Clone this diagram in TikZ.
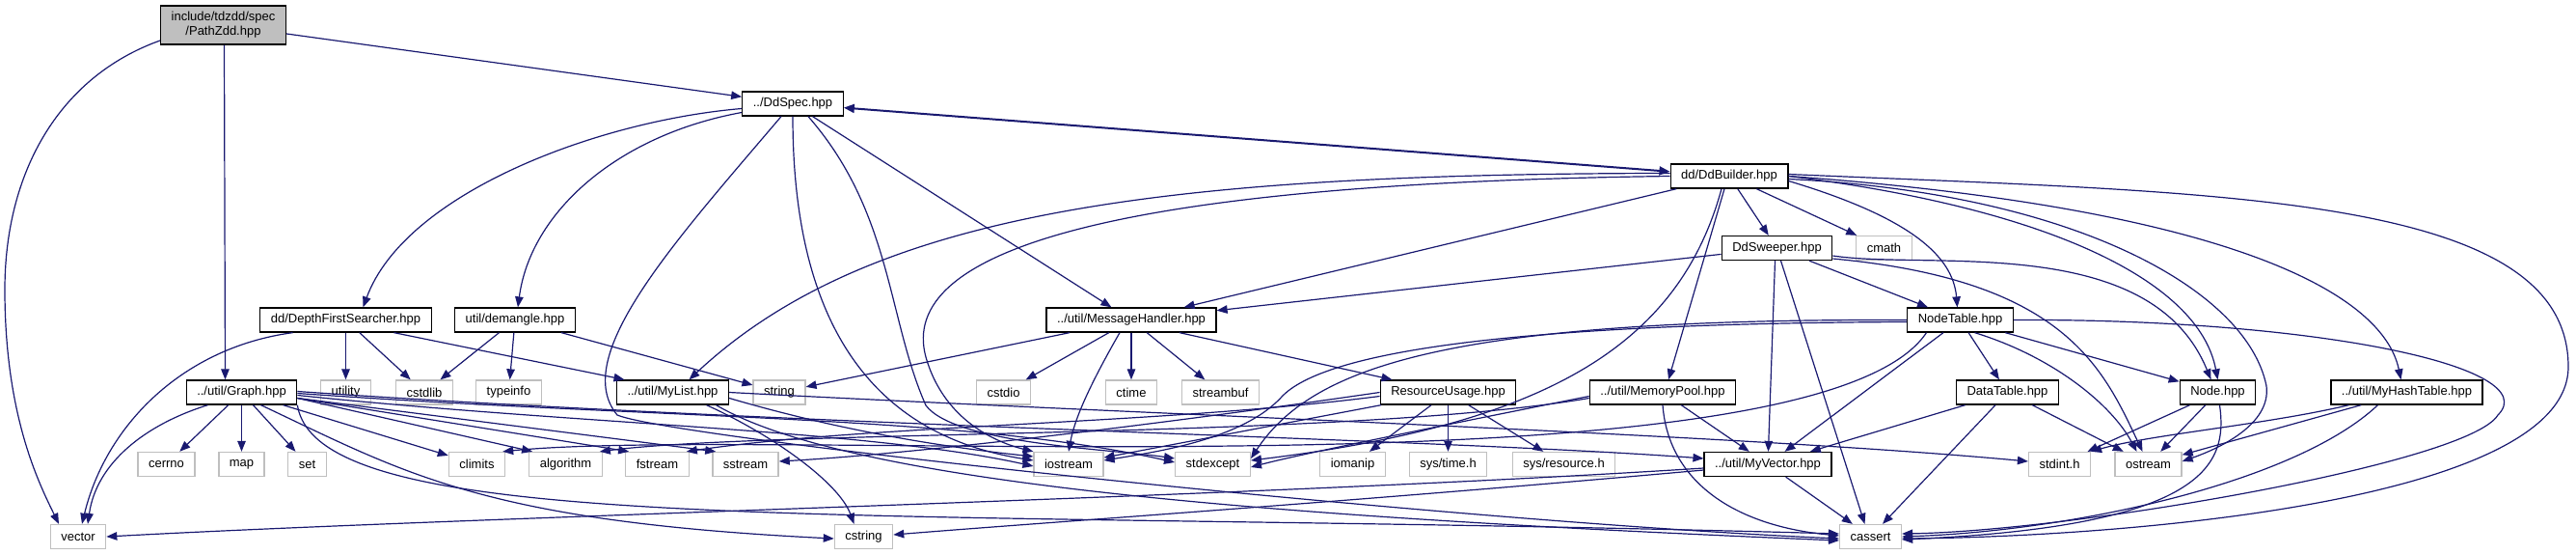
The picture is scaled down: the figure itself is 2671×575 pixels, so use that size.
\documentclass[tikz,border=0pt]{standalone}
\usepackage{fontspec}
\setmainfont{Liberation Sans}
\usetikzlibrary{arrows.meta}
\definecolor{edgeblue}{HTML}{191970}
\definecolor{leafgray}{HTML}{BFBFBF}

\begin{document}
\begin{tikzpicture}[x=1pt,y=-1pt,line width=1pt,font=\fontsize{13}{15}\selectfont,
  srcbox/.style={draw=black,line width=1.3pt,fill=white,minimum height=25pt,inner xsep=11pt,inner ysep=0pt},
  libbox/.style={srcbox,draw=leafgray},
  mainbox/.style={srcbox,fill=leafgray,minimum height=40pt,align=center},
  inc/.style={draw=edgeblue,line width=1.2pt,-{Triangle[length=11pt,width=8.5pt]}}]
\useasboundingbox (0,0) rectangle (2671,575);

\node[mainbox] (pathzdd) at (231.5,26) {include/tdzdd/spec\\/PathZdd.hpp};
\node[srcbox] (ddspec) at (822,107.5) {../DdSpec.hpp};
\node[srcbox] (ddbuilder) at (1793,182.5) {dd/DdBuilder.hpp};
\node[srcbox] (ddsweeper) at (1842.5,257) {DdSweeper.hpp};
\node[libbox] (cmath) at (1953.5,257) {cmath};
\node[srcbox] (dfs) at (358.5,331.5) {dd/DepthFirstSearcher.hpp};
\node[srcbox] (demangle) at (534,331.5) {util/demangle.hpp};
\node[srcbox] (msghandler) at (1173,331.5) {../util/MessageHandler.hpp};
\node[srcbox] (nodetable) at (2032.5,331.5) {NodeTable.hpp};
\node[srcbox] (graph) at (250.5,406.5) {../util/Graph.hpp};
\node[libbox] (utility) at (358.5,406.5) {utility};
\node[libbox] (cstdlib) at (440,406.5) {cstdlib};
\node[libbox] (typeinfo) at (527.5,406.5) {typeinfo};
\node[srcbox] (mylist) at (697.5,406.5) {../util/MyList.hpp};
\node[libbox] (string) at (808,406.5) {string};
\node[libbox] (cstdio) at (1040.5,406.5) {cstdio};
\node[libbox] (ctime) at (1173,406.5) {ctime};
\node[libbox] (streambuf) at (1265.5,406.5) {streambuf};
\node[srcbox] (resusage) at (1501.5,406.5) {ResourceUsage.hpp};
\node[srcbox] (mempool) at (1724,406.5) {../util/MemoryPool.hpp};
\node[srcbox] (datatable) at (2081.5,406.5) {DataTable.hpp};
\node[srcbox] (node) at (2299.5,406.5) {Node.hpp};
\node[srcbox] (myhash) at (2495.5,406.5) {../util/MyHashTable.hpp};
\node[libbox] (cerrno) at (172.5,481) {cerrno};
\node[libbox] (map) at (250.5,481) {map};
\node[libbox] (set) at (318.5,481) {set};
\node[libbox] (climits) at (494.5,481) {climits};
\node[libbox] (algorithm) at (586.5,481) {algorithm};
\node[libbox] (fstream) at (681.5,481) {fstream};
\node[libbox] (sstream) at (773,481) {sstream};
\node[libbox] (iostream) at (1108,481) {iostream};
\node[libbox] (stdexcept) at (1257.5,481) {stdexcept};
\node[libbox] (iomanip) at (1402.5,481) {iomanip};
\node[libbox] (systime) at (1501.5,481) {sys/time.h};
\node[libbox] (sysres) at (1621.5,481) {sys/resource.h};
\node[srcbox] (myvector) at (1833,481) {../util/MyVector.hpp};
\node[libbox] (stdint) at (2135.5,481) {stdint.h};
\node[libbox] (ostream) at (2227.5,481) {ostream};
\node[libbox] (vector) at (81,556) {vector};
\node[libbox] (cstring) at (895.5,556) {cstring};
\node[libbox] (cassert) at (1939.5,556) {cassert};

\draw[inc] (pathzdd) -- (ddspec);
\draw[inc] ([xshift=1pt]pathzdd.south) -- ([xshift=-17pt]graph.north);
\draw[inc] ([yshift=-16pt]pathzdd.west) .. controls (60,80) and (5,180) .. (5,300) .. controls (5,430) and (40,500) .. ([xshift=-20pt]vector.north);
\draw[inc,{Triangle[length=11pt,width=9pt]}-{Triangle[length=11pt,width=9pt]},line width=2pt] (ddspec) -- (ddbuilder);
\draw[inc] ([yshift=-5pt]ddspec.west) .. controls (620,125) and (420,200) .. ([xshift=18pt]dfs.north);
\draw[inc] ([yshift=-9pt]ddspec.west) .. controls (640,140) and (550,220) .. ([xshift=3pt]demangle.north);
\draw[inc] ([xshift=-12pt]ddspec.south) .. controls (700,250) and (590,370) .. (640,430) .. controls (700,455) and (1500,540) .. ([yshift=-2pt]cassert.west);
\draw[inc] (ddspec.south) .. controls (822,330) and (900,450) .. ([yshift=4pt]iostream.west);
\draw[inc] ([xshift=16pt]ddspec.south) .. controls (925,220) and (920,330) .. (960,420) .. controls (990,460) and (1150,465) .. ([yshift=6pt]stdexcept.west);
\draw[inc] (ddspec) -- (msghandler);

\draw[inc] (ddbuilder) -- (ddsweeper);
\draw[inc] (ddbuilder) -- (cmath);
\draw[inc] ([yshift=-5pt]ddbuilder.east) .. controls (1980,225) and (2025,265) .. ([xshift=-3pt]nodetable.north);
\draw[inc] (ddbuilder.east) .. controls (2120,215) and (2280,290) .. (node.north);
\draw[inc] (ddbuilder.east) .. controls (2300,215) and (2470,300) .. ([xshift=-6pt]myhash.north);
\draw[inc] ([yshift=2pt]ddbuilder.east) .. controls (2300,200) and (2663,200) .. (2663,380) .. controls (2663,520) and (2200,556) .. ([yshift=-2pt]cassert.east);
\draw[inc] ([yshift=-3pt]ddbuilder.east) .. controls (2150,200) and (2330,300) .. (2350,400) .. controls (2355,440) and (2300,465) .. ([yshift=3pt]ostream.east);
\draw[inc] ([xshift=-5pt]ddbuilder.south) -- ([xshift=6pt]mempool.north);
\draw[inc] ([xshift=-8pt]ddbuilder.south) .. controls (1740,360) and (1600,440) .. ([yshift=4pt]stdexcept.east);
\draw[inc] (ddbuilder) -- (msghandler);
\draw[inc] ([yshift=3pt]ddbuilder.west) .. controls (1200,180) and (900,220) .. ([xshift=17pt]mylist.north);
\draw[inc] (ddbuilder.west) .. controls (1150,190) and (930,260) .. (960,370) .. controls (980,440) and (1040,460) .. (iostream.north west);

\draw[inc] (ddsweeper) -- (msghandler);
\draw[inc] (ddsweeper) -- (nodetable);
\draw[inc] ([yshift=-8pt]ddsweeper.east) .. controls (2000,280) and (2230,240) .. ([xshift=-7pt]node.north);
\draw[inc] ([yshift=-11pt]ddsweeper.east) .. controls (2140,290) and (2180,380) .. ([xshift=-6pt]ostream.north);
\draw[inc] ([xshift=-2pt]ddsweeper.south) -- (myvector);
\draw[inc] ([xshift=4pt]ddsweeper.south) -- ([xshift=-6pt]cassert.north);

\draw[inc] (nodetable) -- (datatable);
\draw[inc] (nodetable) -- (node);
\draw[inc] (nodetable) -- (myvector);
\draw[inc] ([xshift=15pt]nodetable.south) .. controls (2130,370) and (2190,420) .. ([xshift=-12pt]ostream.north);
\draw[inc] (nodetable.east) .. controls (2400,330) and (2640,380) .. (2590,430) .. controls (2560,480) and (2150,550) .. ([yshift=3pt]cassert.east);
\draw[inc] ([yshift=-2pt]nodetable.west) .. controls (1600,335) and (1380,360) .. (1330,410) .. controls (1290,455) and (1200,468) .. ([yshift=4pt]iostream.east);
\draw[inc] (nodetable.west) .. controls (1500,330) and (1360,380) .. ([yshift=6pt]stdexcept.east);
\draw[inc] ([xshift=-35pt]nodetable.south) .. controls (1880,520) and (800,440) .. ([xshift=-3pt]climits.north east);

\draw[inc] ([xshift=-35pt]graph.south) .. controls (150,440) and (100,480) .. ([xshift=10pt]vector.north);
\draw[inc] (graph) -- (cerrno);
\draw[inc] (graph) -- (map);
\draw[inc] (graph) -- (set);
\draw[inc] (graph) -- (climits);
\draw[inc] ([yshift=-6pt]graph.east) -- ([xshift=4pt]algorithm.north west);
\draw[inc] ([yshift=-6pt]graph.east) -- ([xshift=4pt]fstream.north west);
\draw[inc] ([yshift=-6pt]graph.east) -- ([xshift=4pt]sstream.north west);
\draw[inc] ([xshift=20pt]graph.south) .. controls (420,490) and (500,540) .. ([yshift=-2pt]cstring.west);
\draw[inc] (graph.south east) .. controls (330,560) and (900,525) .. ([yshift=3pt]cassert.west);
\draw[inc] ([yshift=-3pt]graph.east) .. controls (600,440) and (900,445) .. ([yshift=-2pt]iostream.west);
\draw[inc] ([yshift=-1pt]graph.east) .. controls (700,435) and (1000,430) .. ([yshift=2pt]stdexcept.west);
\draw[inc] ([yshift=1pt]graph.east) .. controls (800,440) and (1500,455) .. ([yshift=6pt]myvector.west);

\draw[inc] ([xshift=35pt]mylist.south) .. controls (800,450) and (870,500) .. ([xshift=-10pt]cstring.north);
\draw[inc] ([xshift=45pt]mylist.south) .. controls (880,500) and (1300,535) .. ([yshift=-4pt]cassert.west);
\draw[inc] (mylist.east) .. controls (1200,430) and (1800,450) .. ([yshift=3pt]stdint.west);
\draw[inc] ([yshift=-6pt]mylist.east) .. controls (850,440) and (950,460) .. ([yshift=8pt]iostream.west);

\draw[inc] ([xshift=-55pt]dfs.south) .. controls (190,360) and (110,440) .. ([xshift=4pt]vector.north);
\draw[inc] (dfs) -- (utility);
\draw[inc] (dfs) -- (cstdlib);
\draw[inc] ([xshift=50pt]dfs.south) -- ([xshift=-50pt]mylist.north);

\draw[inc] (demangle) -- (cstdlib);
\draw[inc] (demangle) -- (typeinfo);
\draw[inc] (demangle) -- (string);

\draw[inc] (msghandler) -- (string);
\draw[inc] (msghandler) -- (cstdio);
\draw[inc] ([xshift=-12pt]msghandler.south) .. controls (1135,390) and (1115,430) .. (iostream.north);
\draw[inc] (msghandler) -- (ctime);
\draw[inc] (msghandler) -- (streambuf);
\draw[inc] ([xshift=50pt]msghandler.south) -- ([xshift=-58pt]resusage.north);

\draw[inc] (resusage) -- (iomanip);
\draw[inc] (resusage) -- (systime);
\draw[inc] (resusage) -- (sysres);
\draw[inc] (resusage) -- (iostream);
\draw[inc] ([yshift=-4pt]resusage.west) .. controls (1200,440) and (900,440) .. ([xshift=-3pt]fstream.north east);
\draw[inc] (resusage.west) .. controls (1200,440) and (950,470) .. ([yshift=3pt]sstream.east);

\draw[inc] (mempool) -- (myvector);
\draw[inc] (mempool.south) .. controls (1730,500) and (1800,545) .. ([yshift=1pt]cassert.west);
\draw[inc] ([yshift=-4pt]mempool.west) .. controls (1500,440) and (1350,470) .. ([yshift=-3pt]stdexcept.east);
\draw[inc] ([yshift=-6pt]mempool.west) .. controls (1400,455) and (800,445) .. ([xshift=-3pt]algorithm.north east);

\draw[inc] (datatable) -- (myvector);
\draw[inc] (datatable) -- (cassert);
\draw[inc] (datatable) -- (ostream);

\draw[inc] (node) -- (stdint);
\draw[inc] (node) -- (ostream);
\draw[inc] ([xshift=2pt]node.south) .. controls (2310,480) and (2290,545) .. ([yshift=-3pt]cassert.east);

\draw[inc] ([xshift=-60pt]myhash.south) .. controls (2350,440) and (2230,450) .. (stdint.north east);
\draw[inc] (myhash) -- (ostream);
\draw[inc] ([xshift=-30pt]myhash.south) .. controls (2380,500) and (2150,550) .. (cassert.east);

\draw[inc] ([yshift=-4pt]myvector.west) .. controls (1300,515) and (500,535) .. (vector.east);
\draw[inc] ([yshift=-6pt]myvector.west) .. controls (1400,520) and (1100,540) .. ([yshift=2pt]cstring.east);
\draw[inc] (myvector) -- (cassert);
\end{tikzpicture}
\end{document}
